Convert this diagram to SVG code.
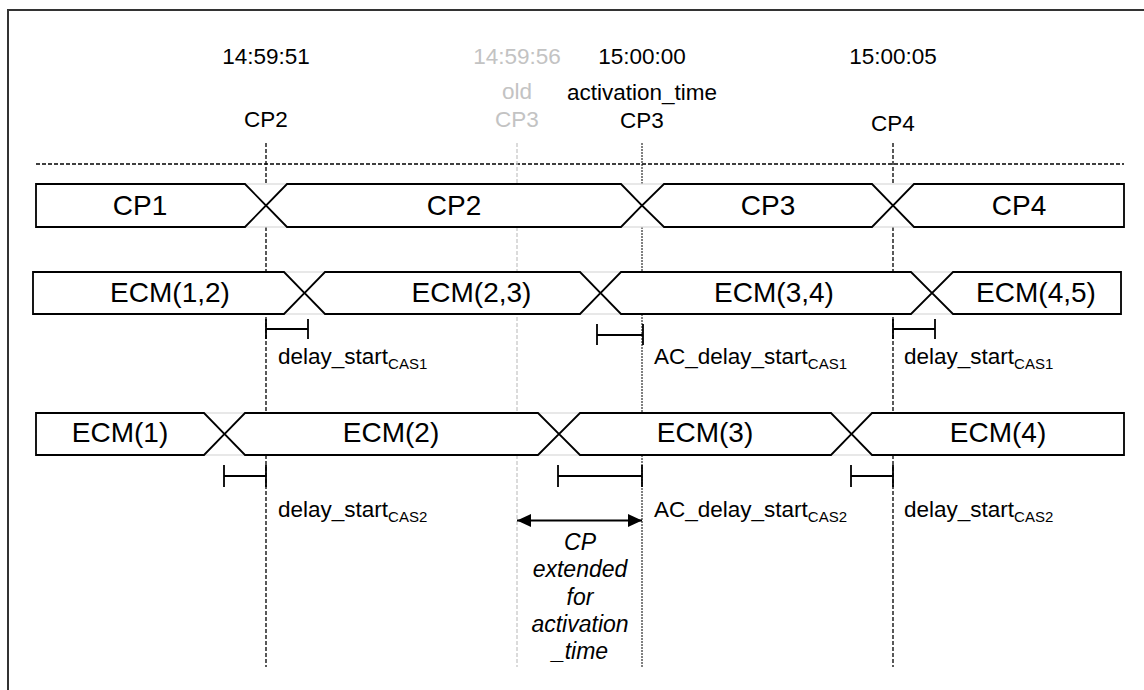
<svg xmlns="http://www.w3.org/2000/svg" width="1144" height="690" viewBox="0 0 1144 690">
<style>
text{font-family:"Liberation Sans",Arial,sans-serif;fill:#000}
.top{font-size:22.5px;text-anchor:middle}
.gray{fill:#c3c3c3}
.row{font-size:28px;text-anchor:middle}
.lbl{font-size:22.5px}
.sub{font-size:15px}
.it{font-size:23px;font-style:italic;text-anchor:middle}
.vd{stroke:#000;stroke-width:1.3;stroke-dasharray:4,2;fill:none}
.vg{stroke:#c8c8c8;stroke-width:1.3;stroke-dasharray:4,2;fill:none}
.vdot{stroke:#000;stroke-width:1;stroke-dasharray:2,1;fill:none}
.bg{fill:#fff;stroke:#d9d9d9;stroke-width:1.2}
.seg{fill:#fff;stroke:#000;stroke-width:1.8;stroke-linejoin:miter}
.bar{stroke:#000;stroke-width:1.8;fill:none}
</style>
<defs>
<marker id="ah" viewBox="0 0 14 13" refX="14" refY="6.5" markerWidth="14" markerHeight="13" markerUnits="userSpaceOnUse" orient="auto-start-reverse">
<path d="M0,0 L14,6.5 L0,13 Z" fill="#000"/>
</marker>
</defs>
<rect x="0" y="0" width="1144" height="690" fill="#fff"/>
<path d="M8,700 V10 H1150" fill="none" stroke="#333" stroke-width="2"/>

<g id="top-labels">
<text class="top" x="266" y="64">14:59:51</text>
<text class="top gray" x="517" y="64">14:59:56</text>
<text class="top" x="642" y="64">15:00:00</text>
<text class="top" x="893" y="64">15:00:05</text>
<text class="top" x="266" y="127">CP2</text>
<text class="top gray" x="517" y="99">old</text>
<text class="top gray" x="517" y="127">CP3</text>
<text class="top" x="642" y="100">activation_time</text>
<text class="top" x="642" y="128">CP3</text>
<text class="top" x="893" y="131">CP4</text>
</g>

<g id="connectors">
<line class="vd" x1="36" y1="164" x2="1124" y2="164"/>
<line class="vd" x1="266" y1="143" x2="266" y2="667"/>
<line class="vg" x1="517" y1="143" x2="517" y2="667"/>
<line class="vdot" x1="642" y1="143" x2="642" y2="667"/>
<line class="vd" x1="893" y1="143" x2="893" y2="667"/>
</g>

<g id="row-cp">
<rect class="bg" x="36" y="184" width="1088" height="43"/>
<path class="seg" d="M36,184 H245 L266,205.5 L245,227 H36 Z"/>
<path class="seg" d="M287,184 H621 L642,205.5 L621,227 H287 L266,205.5 Z"/>
<path class="seg" d="M664,184 H872 L893,205.5 L872,227 H664 L642,205.5 Z"/>
<path class="seg" d="M914,184 H1124 V227 H914 L893,205.5 Z"/>
<text class="row" x="140" y="215">CP1</text>
<text class="row" x="454" y="215">CP2</text>
<text class="row" x="768" y="215">CP3</text>
<text class="row" x="1019" y="215">CP4</text>
</g>

<g id="row-cas1">
<rect class="bg" x="33" y="272" width="1088" height="42"/>
<path class="seg" d="M33,272 H284 L304.5,293 L284,314 H33 Z"/>
<path class="seg" d="M325,272 H580 L600.5,293 L580,314 H325 L304.5,293 Z"/>
<path class="seg" d="M621,272 H911 L932,293 L911,314 H621 L600.5,293 Z"/>
<path class="seg" d="M953,272 H1121 V314 H953 L932,293 Z"/>
<text class="row" x="170" y="302">ECM(1,2)</text>
<text class="row" x="471.5" y="302">ECM(2,3)</text>
<text class="row" x="774" y="302">ECM(3,4)</text>
<text class="row" x="1036" y="302">ECM(4,5)</text>
</g>

<g id="delay-cas1">
<path class="bar" d="M266,319 V339 M266,329 H308 M308,319 V339"/>
<path class="bar" d="M597,324 V345 M597,335 H643 M643,324 V345"/>
<path class="bar" d="M893,319 V339 M893,329 H935 M935,319 V339"/>
<text class="lbl" x="278" y="364">delay_start<tspan class="sub" dy="5">CAS1</tspan></text>
<text class="lbl" x="654" y="364">AC_delay_start<tspan class="sub" dy="5">CAS1</tspan></text>
<text class="lbl" x="904" y="364">delay_start<tspan class="sub" dy="5">CAS1</tspan></text>
</g>

<g id="row-cas2">
<rect class="bg" x="36" y="413" width="1088" height="42"/>
<path class="seg" d="M36,413 H204 L224.5,434 L204,455 H36 Z"/>
<path class="seg" d="M245,413 H538 L559,434 L538,455 H245 L224.5,434 Z"/>
<path class="seg" d="M580,413 H831 L851.5,434 L831,455 H580 L559,434 Z"/>
<path class="seg" d="M872,413 H1124 V455 H872 L851.5,434 Z"/>
<text class="row" x="120" y="442">ECM(1)</text>
<text class="row" x="391" y="442">ECM(2)</text>
<text class="row" x="705" y="442">ECM(3)</text>
<text class="row" x="998" y="442">ECM(4)</text>
</g>

<g id="delay-cas2">
<path class="bar" d="M224,465 V487 M224,476 H266 M266,465 V487"/>
<path class="bar" d="M558,465 V487 M558,476 H642 M642,465 V487"/>
<path class="bar" d="M851,465 V487 M851,476 H893 M893,465 V487"/>
<text class="lbl" x="278" y="517">delay_start<tspan class="sub" dy="5">CAS2</tspan></text>
<text class="lbl" x="654" y="517">AC_delay_start<tspan class="sub" dy="5">CAS2</tspan></text>
<text class="lbl" x="904" y="517">delay_start<tspan class="sub" dy="5">CAS2</tspan></text>
</g>

<g id="extension">
<line x1="517" y1="520.5" x2="642" y2="520.5" stroke="#000" stroke-width="1.8" marker-start="url(#ah)" marker-end="url(#ah)"/>
<text class="it" x="580" y="550">CP</text>
<text class="it" x="580" y="577">extended</text>
<text class="it" x="580" y="605">for</text>
<text class="it" x="580" y="632">activation</text>
<text class="it" x="580" y="659">_time</text>
</g>
</svg>
